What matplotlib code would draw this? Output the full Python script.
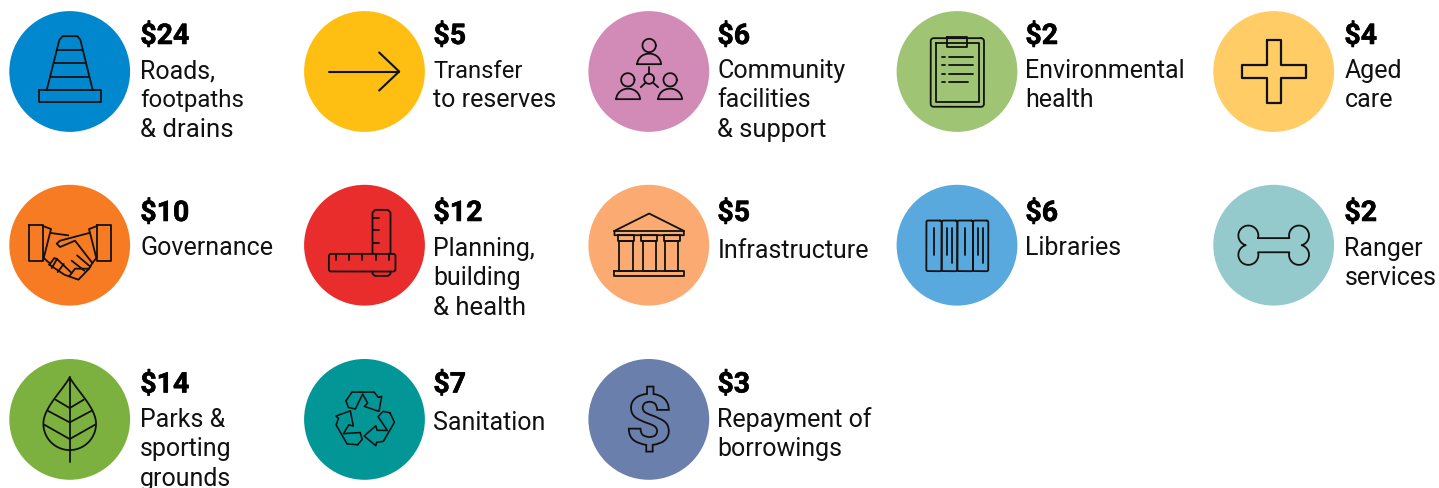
import numpy as np
import matplotlib
matplotlib.use("Agg")
import matplotlib.pyplot as plt
import matplotlib.patheffects as pe
from matplotlib.patches import Circle, PathPatch
from matplotlib.textpath import TextPath
from matplotlib.font_manager import FontProperties
from matplotlib.transforms import Affine2D

amounts = ["$24", "$5", "$6", "$2", "$4", "$10", "$12", "$5", "$6", "$2", "$14", "$7", "$3"]
labels = [
    ["Roads,", "footpaths", "& drains"], ["Transfer", "to reserves"],
    ["Community", "facilities", "& support"], ["Environmental", "health"],
    ["Aged", "care"], ["Governance"], ["Planning,", "building", "& health"],
    ["Infrastructure"], ["Libraries"], ["Ranger", "services"],
    ["Parks &", "sporting", "grounds"], ["Sanitation"], ["Repayment of", "borrowings"],
]
colours = ["#0087CD", "#FFBE12", "#D28BB6", "#9FC574", "#FFCC66", "#F77B22", "#E92D2C",
           "#FBAB71", "#5AA9DE", "#94CACB", "#7DB13F", "#039696", "#6B7FAD"]
icons = ["cone", "arrow", "people", "clipboard", "plus", "hands", "ruler",
         "temple", "books", "bone", "leaf", "recycle", "dollar"]
col_x = [69.7, 364.5, 648.8, 957.0, 1273.7]
text_x = [140.3, 433.4, 717.4, 1025.4, 1344.4]
row_y = [72.5, 246.2, 420.4]
cols = [0, 1, 2, 3, 4, 0, 1, 2, 3, 4, 0, 1, 2]
rows = [0, 0, 0, 0, 0, 1, 1, 1, 1, 1, 2, 2, 2]
amount_base = [45, 222, 393.5]
label_base = [78, 78, 78, 78, 78, 255, 256, 258, 255, 256, 427, 430, 427]
line_sizes = {"footpaths": 17.3, "Transfer": 17.1, "& drains": 18.5, "& support": 18.4,
              "& health": 18.5}

R = 60.4
INK = "#111111"
LW = 1.3

fig = plt.figure(figsize=(14.39, 4.89), dpi=100)
ax = fig.add_axes([0, 0, 1, 1])
ax.set_xlim(0, 1439)
ax.set_ylim(489, 0)
ax.axis("off")


def arc(x, y, r, a0, a1, n=40):
    th = np.radians(np.linspace(a0, a1, n))
    return list(zip(x + r * np.cos(th), y + r * np.sin(th)))


class Pen:
    """Draws icon strokes given in 3x units around the icon's own origin."""

    def __init__(self, cx, cy, ox, oy):
        self.t = Affine2D().translate(-ox, -oy).scale(1 / 3).translate(cx, cy)

    def line(self, pts, closed=False, lw=LW):
        p = self.t.transform(np.array(pts, float))
        if closed:
            p = np.vstack([p, p[0]])
        ax.plot(p[:, 0], p[:, 1], color=INK, lw=lw, solid_capstyle="round",
                solid_joinstyle="round", zorder=3)

    def rect(self, x0, y0, x1, y1, r=0, lw=LW):
        if r == 0:
            self.line([(x0, y0), (x1, y0), (x1, y1), (x0, y1)], True, lw)
        else:
            pts = []
            for cx_, cy_, a in [(x1 - r, y0 + r, -90), (x1 - r, y1 - r, 0),
                                (x0 + r, y1 - r, 90), (x0 + r, y0 + r, 180)]:
                pts += arc(cx_, cy_, r, a, a + 90)
            self.line(pts, True, lw)

    def circle(self, x, y, r):
        self.line(arc(x, y, r, 0, 360))

    def curve(self, p0, c1, c2, p1, n=24):
        u = np.linspace(0, 1, n)[:, None]
        a, b, c, d = map(lambda q: np.array(q, float), (p0, c1, c2, p1))
        return list(map(tuple, (1-u)**3*a + 3*(1-u)**2*u*b + 3*(1-u)*u**2*c + u**3*d))


def cone(cx, cy):
    p = Pen(cx, cy, 209, 215)
    p.rect(118, 271, 302, 306)
    p.line([(140, 271), (178, 120), (188, 109), (232, 109), (241, 120), (278, 271)])
    p.line([(172, 150), (247, 150)])
    p.line([(161, 190), (258, 190)])
    p.line([(150, 231), (268, 231)])


def arrow(cx, cy):
    p = Pen(cx, cy, 1094, 215)
    p.line([(988, 215), (1198, 215)], lw=1.5)
    p.line([(1138, 158), (1198, 215), (1138, 272)], lw=1.5)


def people(cx, cy):
    p = Pen(cx, cy, 206, 215)
    for hx, hy, bx, by in [(207, 137, 207, 193), (143, 240, 144, 298), (270, 240, 270, 298)]:
        p.circle(hx, hy, 20)
        p.line(p.curve((bx - 36, by), (bx - 32, by - 42), (bx + 32, by - 42), (bx + 36, by)), True)
    p.circle(207, 237, 15)
    p.line([(207, 202), (207, 222)])
    p.line([(182, 262), (195, 250)])
    p.line([(234, 262), (220, 250)])


def clipboard(cx, cy):
    p = Pen(cx, cy, 1131, 215)
    p.rect(1052, 115, 1212, 321, r=9)
    p.rect(1069, 130, 1196, 306)
    p.rect(1100, 110, 1162, 140)
    for y, end in [(172, 1178), (196, 1178), (221, 1178), (246, 1163)]:
        p.line([(1085, y), (1094, y)])
        p.line([(1108, y), (end, y)])


def plus(cx, cy):
    p = Pen(cx, cy, 221, 215)
    p.line([(200, 120), (242, 120), (242, 195), (317, 195), (317, 235), (242, 235),
            (242, 310), (200, 310), (200, 235), (125, 235), (125, 195), (200, 195)], True, lw=1.6)


def hands(cx, cy):
    p = Pen(cx, cy, 164, 121.5)
    p.rect(42, 61, 84, 170)
    p.rect(246, 61, 287, 170)
    p.line([(84, 64), (108, 73), (86, 160)])
    p.line([(246, 64), (222, 73), (244, 160)])
    p.line([(108, 85), (160, 92)])
    p.line([(222, 85), (135, 108), (125, 117), (135, 127), (180, 108), (232, 175), (222, 192)])
    p.line([(86, 160), (103, 175)])
    p.line([(232, 175), (244, 160)])
    p.line([(103, 180), (118, 160), (126, 163), (170, 205), (162, 215), (148, 210), (103, 180)])
    p.line([(126, 163), (110, 190)])
    p.line([(146, 178), (128, 202)])
    p.line([(170, 205), (180, 192), (222, 192), (190, 225), (162, 215)])
    p.line([(170, 168), (208, 198)])
    p.line([(186, 152), (226, 186)])


def ruler(cx, cy):
    p = Pen(cx, cy, 1094, 211)
    p.rect(987, 237, 1187, 290, r=7)
    p.line([(1118, 237), (1118, 113), (1126, 105), (1164, 105), (1172, 113), (1172, 237)])
    p.line([(1118, 290), (1118, 297), (1125, 303), (1165, 303), (1172, 297), (1172, 290)])
    for x in [1007, 1047, 1087, 1127, 1167]:
        p.line([(x, 237), (x, 255)])
    for y in [128, 166, 205]:
        p.line([(1118, y), (1138, y)])


def temple(cx, cy):
    p = Pen(cx, cy, 206, 211)
    p.line([(103, 168), (207, 116), (311, 168), (311, 181), (103, 181)], True)
    p.line([(103, 168), (311, 168)])
    for x0, x1 in [(113, 162), (183, 232), (251, 299)]:
        p.rect(x0, 181, x1, 197)
        p.rect(x0 + 5, 197, x1 - 4, 289)
    p.rect(103, 289, 311, 304)


def books(cx, cy):
    p = Pen(cx, cy, 1131, 211)
    for x0, x1 in [(1039, 1085), (1085, 1132), (1132, 1179), (1179, 1225)]:
        p.rect(x0, 137, x1, 289, r=5)
    for x, y1 in [(1062, 240), (1100, 240), (1115, 265), (1155, 240), (1195, 240), (1208, 265)]:
        p.line([(x, 160), (x, y1)])


def bone(cx, cy):
    p = Pen(cx, cy, 221, 737)
    left = arc(145, 708, 30, 15, -255) + arc(145, 766, 30, -105, -375)
    lx = np.array(left)
    right = np.column_stack([442 - lx[:, 0], lx[:, 1]])[::-1]
    p.line(list(map(tuple, lx)) + list(map(tuple, right)), True)


def leaf(cx, cy):
    p = Pen(cx, cy, 204, 209)
    p.line([(204, 83), (204, 338)])
    outline = (p.curve((204, 83), (180, 125), (125, 175), (125, 222))
               + arc(204, 222, 79, 180, 0)
               + p.curve((283, 222), (283, 175), (228, 125), (204, 83)))
    p.line(outline)
    for vy, ey, ex in [(175, 150, 42), (218, 183, 66), (268, 225, 76)]:
        p.line([(204 - ex, ey), (204, vy), (204 + ex, ey)])


def recycle(cx, cy):
    p = Pen(cx, cy, 103.5, 104)
    shape = np.array([(48, 48), (66, 22), (132, 22), (145, 38), (155, 35), (147, 80), (103, 65),
                      (113, 55), (98, 28), (76, 73), (55, 68)], float)
    for ang in (0, 120, 240):
        p.line(Affine2D().rotate_deg_around(103.5, 104, ang).transform(shape), True, lw=1.15)


def dollar(cx, cy):
    fp = FontProperties(family="Roboto", weight="bold")
    tp = TextPath((0, 0), "$", size=100, prop=fp)
    bb = tp.get_extents()
    tr = (Affine2D().translate(-(bb.x0 + bb.x1) / 2, -(bb.y0 + bb.y1) / 2)
          .scale(40 / bb.width, -65 / bb.height).translate(cx, cy - 0.3))
    ax.add_patch(PathPatch(tr.transform_path(tp), fc="none", ec=INK, lw=LW, zorder=3))


draw = dict(cone=cone, arrow=arrow, people=people, clipboard=clipboard, plus=plus, hands=hands,
            ruler=ruler, temple=temple, books=books, bone=bone, leaf=leaf, recycle=recycle,
            dollar=dollar)

for i, name in enumerate(icons):
    cx, cy = col_x[cols[i]], row_y[rows[i]]
    ax.add_patch(Circle((cx, cy), R, fc=colours[i], ec="none", zorder=2))
    draw[name](cx, cy)
    tx = text_x[cols[i]]
    ax.text(tx, amount_base[rows[i]], amounts[i], family="Roboto", weight="bold", fontsize=20.5,
            color="#000000", va="baseline", ha="left",
            path_effects=[pe.withStroke(linewidth=0.4, foreground="#000000")])
    for k, line in enumerate(labels[i]):
        ax.text(tx, label_base[i] + 29.4 * k, line, family="Roboto",
                fontsize=line_sizes.get(line, 18),
                color=INK, va="baseline", ha="left", clip_on=False)

fig.savefig("out.png", dpi=100, facecolor="white")
